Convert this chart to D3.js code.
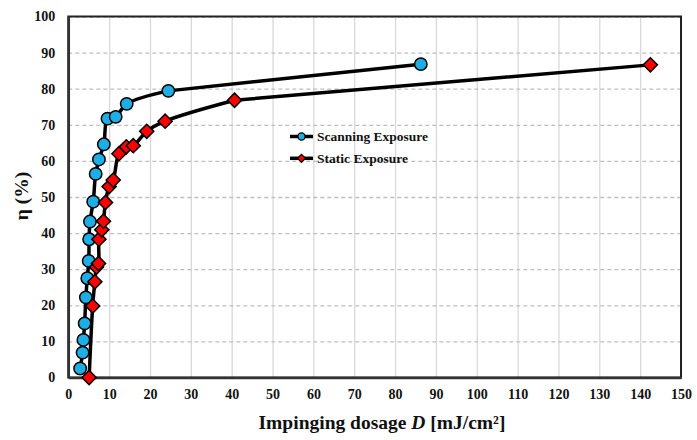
<!DOCTYPE html>
<html>
<head>
<meta charset="utf-8">
<script src="https://cdn.jsdelivr.net/npm/d3@7"></script>
<style>
  body { margin: 0; background: #fff; }
  svg text { font-family: "Liberation Serif", "Times New Roman", serif; font-weight: bold; }
</style>
</head>
<body>
<svg width="697" height="440"></svg>
<script>
// data
var scanD   = [2.9, 3.5, 3.7, 4.0, 4.3, 4.65, 5.0, 5.1, 5.3, 6.1, 6.7, 7.5, 8.7, 9.6, 11.6, 14.3, 24.5, 86.3];
var scanEta = [2.5, 6.9, 10.4, 15.0, 22.2, 27.5, 32.3, 38.3, 43.2, 48.7, 56.4, 60.4, 64.6, 71.7, 72.2, 75.8, 79.4, 86.8];

var statD   = [5.1, 5.97, 6.5, 6.9, 7.4, 7.5, 8.2, 8.6, 9.1, 10.0, 11.0, 12.4, 14.2, 15.9, 19.2, 23.7, 40.7, 142.5];
var statEta = [0, 19.8, 26.5, 30.6, 31.6, 38.3, 40.9, 43.3, 48.5, 52.9, 54.7, 62.0, 63.9, 64.2, 68.2, 71.0, 76.8, 86.6];

var xTicks = d3.range(0, 151, 10);
var yTicks = d3.range(0, 101, 10);

var seriesNames = ["Scanning Exposure", "Static Exposure"];

/*
    margins and svg
*/
var svg = d3.select("svg"),
    margin = {top: 16.5, right: 16, bottom: 62.5, left: 68.3},
    width = svg.attr("width") - margin.left - margin.right,
    height = svg.attr("height") - margin.top - margin.bottom,
    g = svg.append("g").attr("transform", "translate(" + margin.left + "," + margin.top + ")");

var x = d3.scaleLinear().domain([0, 150]).range([0, width]),
    y = d3.scaleLinear().domain([0, 100]).range([height, 0]);

// vertical gridlines (solid, light)
g.append("g")
    .attr("class", "grid")
    .call(d3.axisBottom(x).tickValues(xTicks).tickSize(height).tickFormat(""))
    .call(function(s) {
        s.select(".domain").remove();
        s.selectAll("line").attr("stroke", "#d9d9d9").attr("stroke-width", 1.3);
    });

// horizontal gridlines (dashed)
g.append("g")
    .attr("class", "grid")
    .call(d3.axisLeft(y).tickValues(yTicks).tickSize(-width).tickFormat(""))
    .call(function(s) {
        s.select(".domain").remove();
        s.selectAll("line").attr("stroke", "#bfbfbf").attr("stroke-width", 1.3)
            .attr("stroke-dasharray", "4,3");
    });

// plot frame
g.append("rect")
    .attr("width", width)
    .attr("height", height)
    .attr("fill", "none")
    .attr("stroke", "#222")
    .attr("stroke-width", 2);

// x axis
g.append("g")
    .attr("transform", "translate(0," + height + ")")
    .call(d3.axisBottom(x).tickValues(xTicks).tickSize(0).tickPadding(12))
    .call(function(s) {
        s.select(".domain").attr("stroke", "#333").attr("stroke-width", 2.5);
        s.selectAll("text").attr("font-size", "14px").attr("fill", "#111")
            .style("font-family", "'Liberation Serif', serif").style("font-weight", "bold");
    });

// y axis
g.append("g")
    .call(d3.axisLeft(y).tickValues(yTicks).tickSize(0).tickPadding(13))
    .call(function(s) {
        s.select(".domain").attr("stroke", "#333").attr("stroke-width", 2.5);
        s.selectAll("text").attr("font-size", "14px").attr("fill", "#111")
            .style("font-family", "'Liberation Serif', serif").style("font-weight", "bold");
    });

// axis titles
var xt = svg.append("text")
    .attr("x", 382)
    .attr("y", 428.5)
    .attr("text-anchor", "middle")
    .attr("font-size", "19.5px")
    .attr("fill", "#111");
xt.append("tspan").text("Impinging dosage ");
xt.append("tspan").attr("font-style", "italic").text("D");
xt.append("tspan").text(" [mJ/cm²]");

svg.append("text")
    .attr("transform", "translate(28,196) rotate(-90)")
    .attr("text-anchor", "middle")
    .attr("font-size", "19.5px")
    .attr("fill", "#111")
    .text("η (%)");

// smooth part through the dense points, then a straight tail to the last point
var smooth = d3.line()
    .curve(d3.curveCatmullRom.alpha(0.5))
    .x(function(d) { return x(d[0]); })
    .y(function(d) { return y(d[1]); });
var straight = d3.line()
    .x(function(d) { return x(d[0]); })
    .y(function(d) { return y(d[1]); });

var scan = d3.zip(scanD, scanEta),
    stat = d3.zip(statD, statEta);

[scan, stat].forEach(function(s) {
    g.append("path").datum(s.slice(0, -1))
        .attr("d", smooth).attr("fill", "none").attr("stroke", "#000")
        .attr("stroke-width", 3.5).attr("stroke-linejoin", "round");
    g.append("path").datum(s.slice(-2))
        .attr("d", straight).attr("fill", "none").attr("stroke", "#000")
        .attr("stroke-width", 3.5).attr("stroke-linecap", "round");
});

var diamond = d3.symbol().type(d3.symbolSquare).size(100);

g.selectAll(".scan").data(scan).enter().append("circle")
    .attr("class", "scan")
    .attr("cx", function(d) { return x(d[0]); })
    .attr("cy", function(d) { return y(d[1]); })
    .attr("r", 6.2)
    .attr("fill", "#1eaee6")
    .attr("stroke", "#000")
    .attr("stroke-width", 1.5);

g.selectAll(".stat").data(stat).enter().append("path")
    .attr("class", "stat")
    .attr("d", diamond)
    .attr("transform", function(d) { return "translate(" + x(d[0]) + "," + y(d[1]) + ") rotate(45)"; })
    .attr("fill", "#ff0000")
    .attr("stroke", "#000")
    .attr("stroke-width", 1.5);

// legend (the source text is stretched wide)
var legendWidths = [111, 91];
var legend = svg.append("g").attr("transform", "translate(290,136.5)");
seriesNames.forEach(function(name, i) {
    var row = legend.append("g").attr("transform", "translate(0," + (i * 21.8) + ")");
    row.append("line").attr("x1", 0).attr("x2", 23).attr("stroke", "#000").attr("stroke-width", 3.5);
    if (i === 0) {
        row.append("circle").attr("cx", 11.5).attr("r", 3.6)
            .attr("fill", "#1eaee6").attr("stroke", "#000").attr("stroke-width", 1.2);
    } else {
        row.append("path").attr("d", d3.symbol().type(d3.symbolSquare).size(32))
            .attr("transform", "translate(11.5,0) rotate(45)")
            .attr("fill", "#ff0000").attr("stroke", "#000").attr("stroke-width", 1.2);
    }
    row.append("text")
        .attr("x", 27)
        .attr("dy", "0.35em")
        .attr("font-size", "13px")
        .attr("textLength", legendWidths[i])
        .attr("lengthAdjust", "spacingAndGlyphs")
        .attr("fill", "#111")
        .text(name);
});
</script>
</body>
</html>
